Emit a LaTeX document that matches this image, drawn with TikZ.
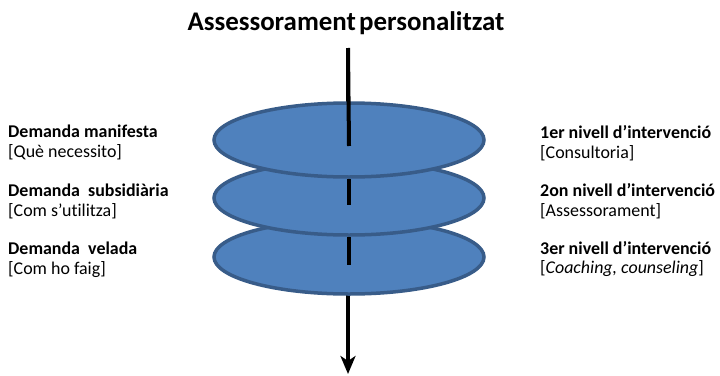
\documentclass[tikz,border=0pt]{standalone}
\usepackage{fontspec}
\setmainfont[Ligatures={NoCommon,TeX}]{Carlito}
\usetikzlibrary{shapes.geometric,arrows.meta,calc}

\definecolor{discfill}{HTML}{4F81BD}
\definecolor{discline}{HTML}{385C89}

\tikzset{
  disc/.style={ellipse, fill=discfill, draw=discline, line width=3.5bp,
    minimum width=270bp, minimum height=74bp, inner sep=0pt},
  shaft/.style={line width=4bp, black},
  lbl/.style={align=left, inner sep=0pt, font=\fontsize{18}{20}\selectfont}
}

\begin{document}
\begin{tikzpicture}[x=1bp, y=1bp]
    \useasboundingbox (0,0) rectangle (720,375);

    \node[font=\bfseries\fontsize{27}{30}\selectfont] (title) at (346,352) {Assessorament\hspace{0.12em}personalitzat};

    \coordinate (top) at (348,327); \coordinate (tip) at (348,1);
    \coordinate (lx) at (8,0); \coordinate (rx) at (540,0);

    % the long arrow runs behind the discs
    \draw[shaft, -{Stealth[length=18bp, width=15bp, inset=5bp]}] (top) -- (tip);

    % lowest disc first, so each disc lies over the one beneath
    \node[disc] (n3) at (349,118) {};
    \node[disc] (n2) at (349,177) {};
    \node[disc] (n1) at (349,235) {};

    \draw[shaft] (top) -- ($(n1.center)+(0,-6)$);
    \draw[shaft] (n1.south) -- ($(n2.center)+(0,-7)$);
    \draw[shaft] (n2.south) -- ($(n3.center)+(0,-8)$);

    \node[lbl, anchor=west] (d1) at ($(n1.center -| lx)+(0,-2)$) {\textbf{Demanda manifesta}\\{[}Què necessito{]}};
    \node[lbl, anchor=west] (d2) at ($(n2.center -| lx)+(0,-3)$) {\textbf{Demanda\ \ subsidiària}\\{[}Com s’utilitza{]}};
    \node[lbl, anchor=west] (d3) at ($(n3.center -| lx)+(0,-3)$) {\textbf{Demanda\ \ velada}\\{[}Com ho faig{]}};

    \node[lbl, anchor=west] (i1) at ($(n1.center -| rx)+(0,-3)$) {\textbf{1er nivell d’intervenció}\\{[}Consultoria{]}};
    \node[lbl, anchor=west] (i2) at ($(n2.center -| rx)+(0,-3)$) {\textbf{2on nivell d’intervenció}\\{[}Assessorament{]}};
    \node[lbl, anchor=west] (i3) at ($(n3.center -| rx)+(0,-2)$) {\textbf{3er nivell d’intervenció}\\{[}\textit{Coaching, counseling}{]}};
\end{tikzpicture}
\end{document}
